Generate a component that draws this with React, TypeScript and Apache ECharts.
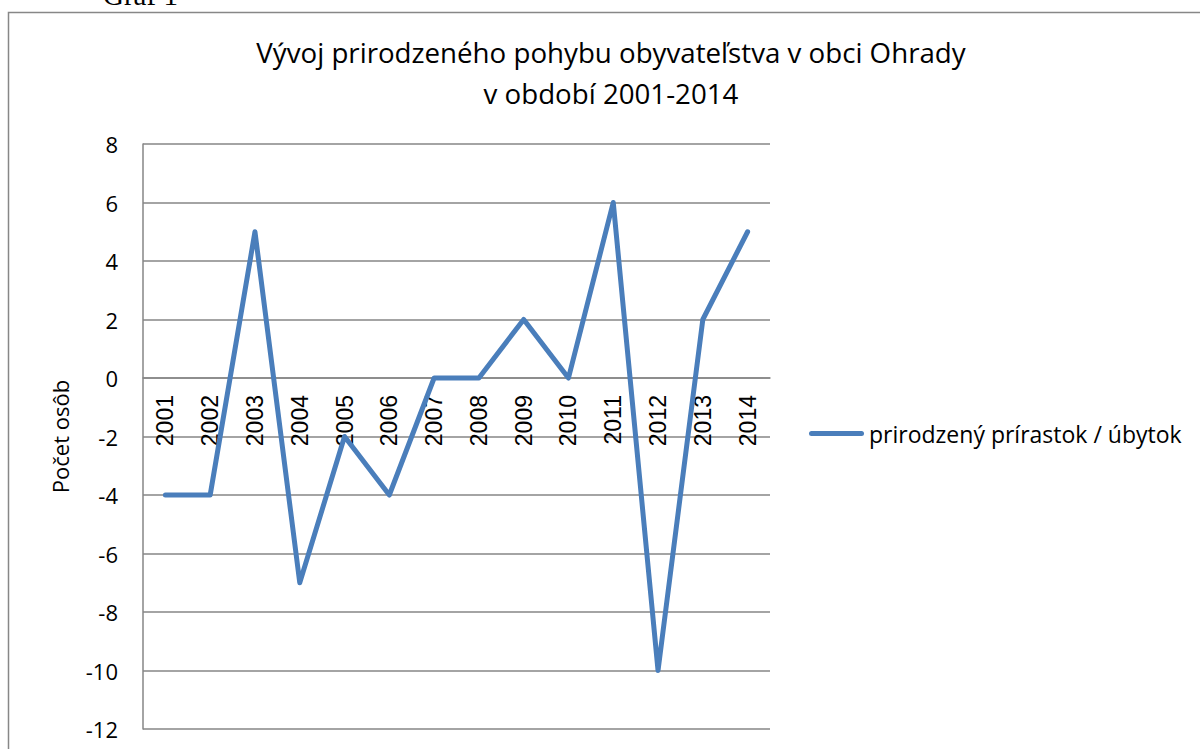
import React, { useEffect, useRef } from "react";
import * as echarts from "echarts";

const years = ["2001", "2002", "2003", "2004", "2005", "2006", "2007", "2008", "2009", "2010", "2011", "2012", "2013", "2014"];
const growth = [-4, -4, 5, -7, -2, -4, 0, 0, 2, 0, 6, -10, 2, 5];
const yMin = -12;
const yMax = 8;
const yStep = 2;
const seriesName = "prirodzený prírastok / úbytok";
const titleLine1 = "Vývoj prirodzeného pohybu obyvateľstva v obci Ohrady";
const titleLine2 = "v období 2001-2014";
const yAxisName = "Počet osôb";
const captionText = "Graf 1";

const SANS = "'Open Sans', 'Noto Sans', sans-serif";

const GRID_TOP = 144;
const GRID_BOTTOM = 20;
const CHART_H = 749;
const plotH = CHART_H - GRID_TOP - GRID_BOTTOM;
// distance from the bottom of the plot to the value 0, so the category axis sits on zero
const zeroOffset = -((0 - yMin) / (yMax - yMin)) * plotH;

export default function App() {
  const ref = useRef<HTMLDivElement>(null);
  useEffect(() => {
    if (!ref.current) return;
    const chart = echarts.init(ref.current, undefined, { renderer: "svg" });
    chart.setOption({
      animation: false,
      backgroundColor: "#ffffff",
      graphic: [
        {
          type: "rect",
          shape: { x: 8.5, y: 12.5, width: 1220, height: 800 },
          style: { fill: "none", stroke: "#878787", lineWidth: 1.5 },
          silent: true,
        },
        {
          type: "text",
          x: 103,
          y: -5,
          style: { text: captionText, font: "29px 'Liberation Serif', serif", fill: "#000", verticalAlign: "middle" },
        },
        {
          type: "text",
          x: 611,
          y: 52,
          style: { text: titleLine1, font: `27.7px ${SANS}`, fill: "#000", align: "center", verticalAlign: "middle" },
        },
        {
          type: "text",
          x: 611,
          y: 93,
          style: { text: titleLine2, font: `27.7px ${SANS}`, fill: "#000", align: "center", verticalAlign: "middle" },
        },
      ],
      grid: { left: 143, right: 430, top: GRID_TOP, bottom: GRID_BOTTOM, containLabel: false, outerBoundsMode: "none" },
      legend: {
        left: 809,
        top: 422,
        padding: 0,
        itemWidth: 55,
        itemHeight: 5,
        textStyle: { fontFamily: SANS, fontSize: 23, color: "#000" },
        data: [
          {
            name: seriesName,
            icon: "path://M2.5,0 L52.5,0 A2.5,2.5 0 0 1 52.5,5 L2.5,5 A2.5,2.5 0 0 1 2.5,0 Z",
            itemStyle: { color: "#4a7ebb" },
          },
        ],
      },
      xAxis: {
        type: "category",
        data: years,
        boundaryGap: true,
        position: "bottom",
        offset: zeroOffset,
        axisLine: { onZero: false, lineStyle: { color: "#868686", width: 1.5 } },
        axisTick: { show: false },
        axisLabel: {
          rotate: 90,
          margin: 17,
          fontFamily: "'Liberation Sans', Arial, sans-serif",
          fontSize: 23,
          color: "#000",
          interval: 0,
        },
        splitLine: { show: false },
      },
      yAxis: {
        type: "value",
        min: yMin,
        max: yMax,
        interval: yStep,
        name: yAxisName,
        nameLocation: "middle",
        nameGap: 72,
        nameTextStyle: { fontFamily: SANS, fontSize: 22, color: "#000" },
        axisLine: { show: true, lineStyle: { color: "#868686", width: 1.5 } },
        axisTick: { show: false },
        axisLabel: { margin: 25, fontFamily: SANS, fontSize: 22, color: "#000" },
        splitLine: { show: true, lineStyle: { color: "#868686", width: 1.5 } },
      },
      series: [
        {
          name: seriesName,
          type: "line",
          data: growth,
          symbol: "none",
          lineStyle: { color: "#4a7ebb", width: 5, cap: "round", join: "round" },
          itemStyle: { color: "#4a7ebb" },
          z: 3,
        },
      ],
    });
    return () => chart.dispose();
  }, []);
  return <div ref={ref} style={{ position: "fixed", left: 0, top: 0, width: 1200, height: 749 }} />;
}
